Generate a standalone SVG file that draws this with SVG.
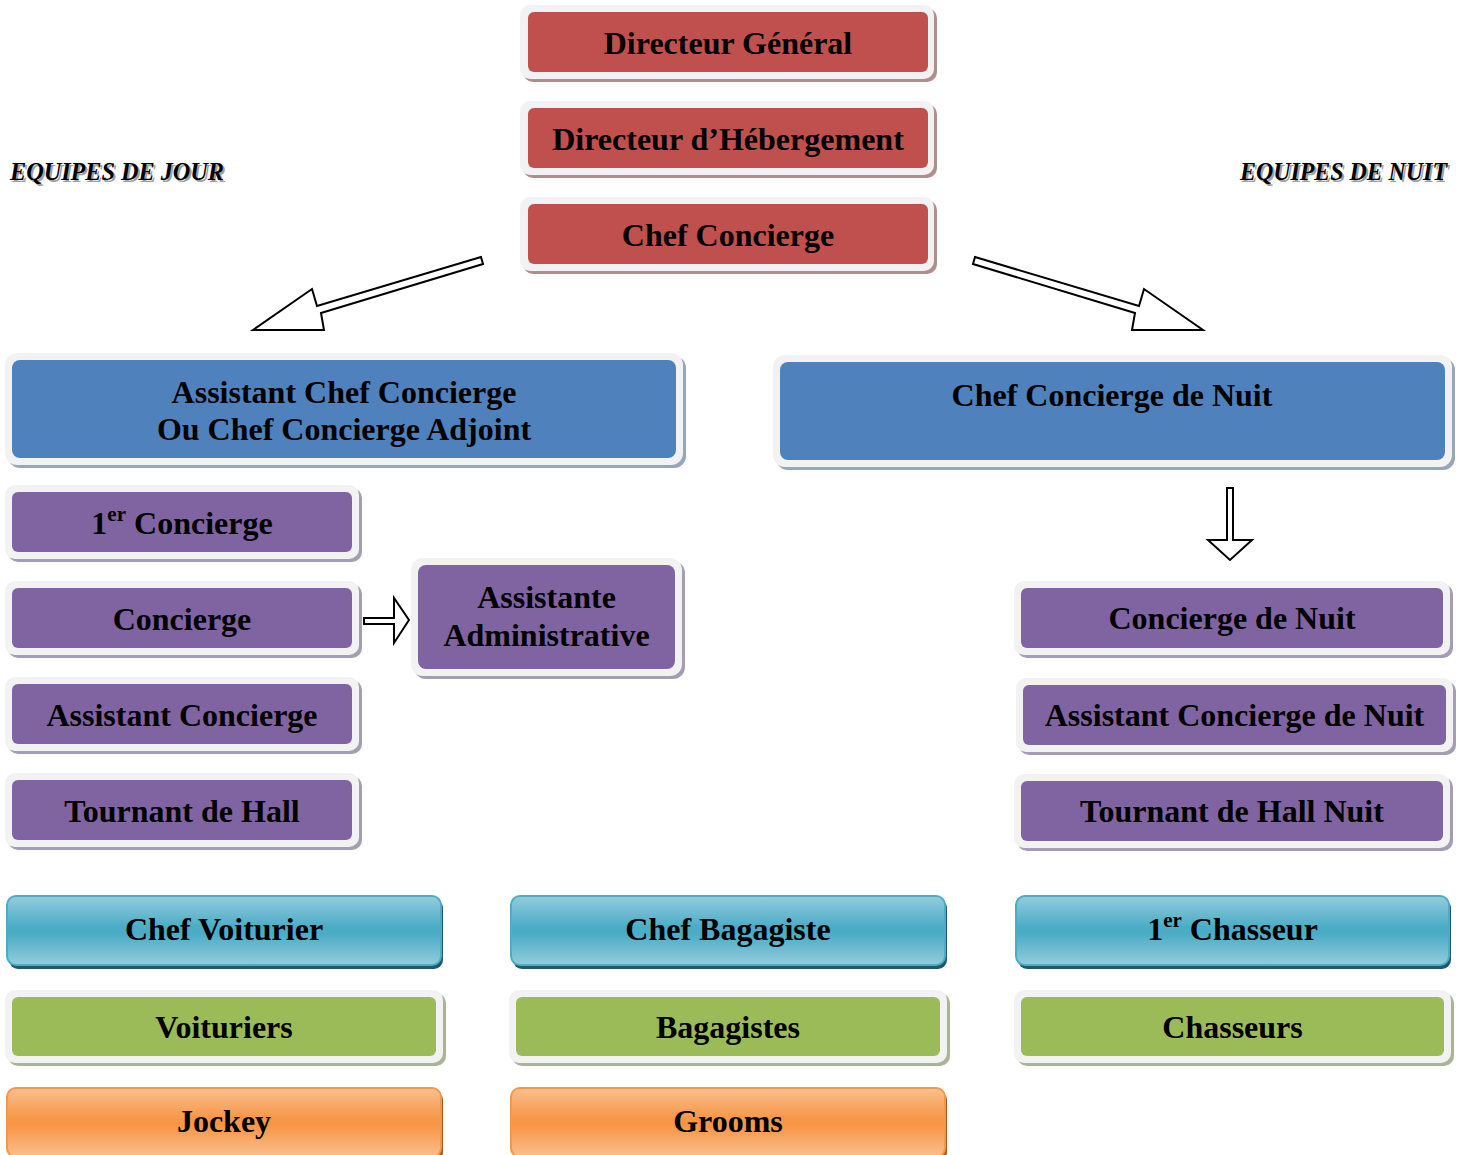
<svg xmlns="http://www.w3.org/2000/svg" width="1464" height="1155" viewBox="0 0 1464 1155">
<style>
.t{font-family:"Liberation Serif","Times New Roman",serif;font-weight:bold;font-size:32px;text-anchor:middle;fill:#000}
.sup{font-size:21px}
.frame{fill:#f2f2f2}
.red{fill:#c0504d}.redsh{fill:#b38c8c}
.blue{fill:#4f81bd}.bluesh{fill:#97a6b9}
.pur{fill:#8064a2}.pursh{fill:#a59db1}
.grn{fill:#9bbb59}.grnsh{fill:#a9b596}
.gb{fill:url(#gBlue);stroke:#4bacc6;stroke-width:2}
.go{fill:url(#gOrange);stroke:#f79646;stroke-width:2}
.gbsh{fill:#215968}.gosh{fill:#a65a1e}
.arrow{fill:#fff;stroke:#000;stroke-width:2;stroke-linejoin:miter}
.eq{font-family:"Liberation Serif","Times New Roman",serif;font-style:italic;font-weight:bold;font-size:25px;fill:#000}
.eqsh{font-family:"Liberation Serif","Times New Roman",serif;font-style:italic;font-weight:bold;font-size:25px;fill:#a0a0a0}
</style>
<defs>
<linearGradient id="gBlue" x1="0" y1="0" x2="0" y2="1">
<stop offset="0" stop-color="#93cddd"/><stop offset="0.45" stop-color="#4bacc6"/><stop offset="0.55" stop-color="#4bacc6"/><stop offset="1" stop-color="#93cddd"/>
</linearGradient>
<linearGradient id="gOrange" x1="0" y1="0" x2="0" y2="1">
<stop offset="0" stop-color="#fac090"/><stop offset="0.45" stop-color="#f79646"/><stop offset="0.55" stop-color="#f79646"/><stop offset="1" stop-color="#fac090"/>
</linearGradient>
</defs>
<rect width="1464" height="1155" fill="#fff"/>

<g id="label-jour">
<text class="eqsh" x="12" y="182" textLength="214" lengthAdjust="spacingAndGlyphs">EQUIPES DE JOUR</text>
<text class="eq" x="10" y="180" textLength="214" lengthAdjust="spacingAndGlyphs">EQUIPES DE JOUR</text>
</g>
<g id="label-nuit">
<text class="eqsh" x="1242" y="182" textLength="207" lengthAdjust="spacingAndGlyphs">EQUIPES DE NUIT</text>
<text class="eq" x="1240" y="180" textLength="207" lengthAdjust="spacingAndGlyphs">EQUIPES DE NUIT</text>
</g>

<g id="directeur-general">
<rect class="redsh" x="523" y="8" width="414" height="74" rx="10"/>
<rect class="frame" x="520" y="5" width="414" height="74" rx="10"/>
<rect class="red" x="528" y="12" width="400" height="60" rx="6"/>
<text class="t" x="728" y="54">Directeur Général</text>
</g>
<g id="directeur-hebergement">
<rect class="redsh" x="523" y="104" width="414" height="74" rx="10"/>
<rect class="frame" x="520" y="101" width="414" height="74" rx="10"/>
<rect class="red" x="528" y="108" width="400" height="60" rx="6"/>
<text class="t" x="728" y="150">Directeur d’Hébergement</text>
</g>
<g id="chef-concierge">
<rect class="redsh" x="523" y="200" width="414" height="74" rx="10"/>
<rect class="frame" x="520" y="197" width="414" height="74" rx="10"/>
<rect class="red" x="528" y="204" width="400" height="60" rx="6"/>
<text class="t" x="728" y="246">Chef Concierge</text>
</g>

<g id="assistant-chef-concierge">
<rect class="bluesh" x="8" y="356" width="678" height="112" rx="12"/>
<rect class="frame" x="5" y="353" width="678" height="112" rx="12"/>
<rect class="blue" x="12" y="360" width="664" height="98" rx="8"/>
<text class="t" x="344" y="403">Assistant Chef Concierge</text>
<text class="t" x="344" y="440">Ou Chef Concierge Adjoint</text>
</g>
<g id="chef-concierge-nuit">
<rect class="bluesh" x="776" y="358" width="679" height="112" rx="12"/>
<rect class="frame" x="773" y="355" width="679" height="112" rx="12"/>
<rect class="blue" x="780" y="362" width="665" height="98" rx="8"/>
<text class="t" x="1112" y="406">Chef Concierge de Nuit</text>
</g>

<g id="premier-concierge">
<rect class="pursh" x="8" y="488" width="354" height="74" rx="10"/>
<rect class="frame" x="5" y="485" width="354" height="74" rx="10"/>
<rect class="pur" x="12" y="492" width="340" height="60" rx="6"/>
<text class="t" x="182" y="534">1<tspan class="sup" dy="-13">er</tspan><tspan dy="13"> Concierge</tspan></text>
</g>
<g id="concierge">
<rect class="pursh" x="8" y="584" width="354" height="74" rx="10"/>
<rect class="frame" x="5" y="581" width="354" height="74" rx="10"/>
<rect class="pur" x="12" y="588" width="340" height="60" rx="6"/>
<text class="t" x="182" y="630">Concierge</text>
</g>
<g id="assistant-concierge">
<rect class="pursh" x="8" y="680" width="354" height="74" rx="10"/>
<rect class="frame" x="5" y="677" width="354" height="74" rx="10"/>
<rect class="pur" x="12" y="684" width="340" height="60" rx="6"/>
<text class="t" x="182" y="726">Assistant Concierge</text>
</g>
<g id="tournant-hall">
<rect class="pursh" x="8" y="776" width="354" height="74" rx="10"/>
<rect class="frame" x="5" y="773" width="354" height="74" rx="10"/>
<rect class="pur" x="12" y="780" width="340" height="60" rx="6"/>
<text class="t" x="182" y="822">Tournant de Hall</text>
</g>
<g id="assistante-administrative">
<rect class="pursh" x="414" y="561" width="271" height="118" rx="12"/>
<rect class="frame" x="411" y="558" width="271" height="118" rx="12"/>
<rect class="pur" x="418" y="565" width="257" height="104" rx="8"/>
<text class="t" x="546.5" y="608">Assistante</text>
<text class="t" x="546.5" y="646">Administrative</text>
</g>

<g id="concierge-nuit">
<rect class="pursh" x="1017" y="584" width="436" height="74" rx="10"/>
<rect class="frame" x="1014" y="581" width="436" height="74" rx="10"/>
<rect class="pur" x="1021" y="588" width="422" height="60" rx="6"/>
<text class="t" x="1232" y="629">Concierge de Nuit</text>
</g>
<g id="assistant-concierge-nuit">
<rect class="pursh" x="1019" y="681" width="437" height="74" rx="10"/>
<rect class="frame" x="1016" y="678" width="437" height="74" rx="10"/>
<rect class="pur" x="1023" y="685" width="423" height="60" rx="6"/>
<text class="t" x="1234.5" y="726">Assistant Concierge de Nuit</text>
</g>
<g id="tournant-hall-nuit">
<rect class="pursh" x="1017" y="777" width="436" height="74" rx="10"/>
<rect class="frame" x="1014" y="774" width="436" height="74" rx="10"/>
<rect class="pur" x="1021" y="781" width="422" height="60" rx="6"/>
<text class="t" x="1232" y="822">Tournant de Hall Nuit</text>
</g>

<g id="chef-voiturier">
<rect class="gbsh" x="9" y="899" width="434" height="70" rx="9"/>
<rect class="gb" x="7" y="896" width="434" height="69" rx="9"/>
<text class="t" x="224" y="940">Chef Voiturier</text>
</g>
<g id="chef-bagagiste">
<rect class="gbsh" x="513" y="899" width="434" height="70" rx="9"/>
<rect class="gb" x="511" y="896" width="434" height="69" rx="9"/>
<text class="t" x="728" y="940">Chef Bagagiste</text>
</g>
<g id="premier-chasseur">
<rect class="gbsh" x="1018" y="899" width="433" height="70" rx="9"/>
<rect class="gb" x="1016" y="896" width="433" height="69" rx="9"/>
<text class="t" x="1232.5" y="940">1<tspan class="sup" dy="-13">er</tspan><tspan dy="13"> Chasseur</tspan></text>
</g>

<g id="voituriers">
<rect class="grnsh" x="8" y="993" width="438" height="73" rx="10"/>
<rect class="frame" x="5" y="990" width="438" height="73" rx="10"/>
<rect class="grn" x="12" y="997" width="424" height="59" rx="6"/>
<text class="t" x="224" y="1038">Voituriers</text>
</g>
<g id="bagagistes">
<rect class="grnsh" x="512" y="993" width="438" height="73" rx="10"/>
<rect class="frame" x="509" y="990" width="438" height="73" rx="10"/>
<rect class="grn" x="516" y="997" width="424" height="59" rx="6"/>
<text class="t" x="728" y="1038">Bagagistes</text>
</g>
<g id="chasseurs">
<rect class="grnsh" x="1017" y="993" width="437" height="73" rx="10"/>
<rect class="frame" x="1014" y="990" width="437" height="73" rx="10"/>
<rect class="grn" x="1021" y="997" width="423" height="59" rx="6"/>
<text class="t" x="1232.5" y="1038">Chasseurs</text>
</g>

<g id="jockey">
<rect class="gosh" x="9" y="1091" width="434" height="70" rx="9"/>
<rect class="go" x="7" y="1088" width="434" height="69" rx="9"/>
<text class="t" x="224" y="1132">Jockey</text>
</g>
<g id="grooms">
<rect class="gosh" x="513" y="1091" width="434" height="70" rx="9"/>
<rect class="go" x="511" y="1088" width="434" height="69" rx="9"/>
<text class="t" x="728" y="1132">Grooms</text>
</g>

<g id="connectors">
<polygon class="arrow" points="481,257 317,306 312,289 253,330 324,330 321,313 483,264"/>
<polygon class="arrow" points="975,257 1139,306 1144,289 1203,330 1132,330 1135,313 973,264"/>
<polygon class="arrow" points="1227,488 1233,488 1233,540 1252,540 1230,560 1208,540 1227,540"/>
<polygon class="arrow" points="364,618 394,618 394,598 409,620 394,643 394,624 364,624"/>
</g>
</svg>
